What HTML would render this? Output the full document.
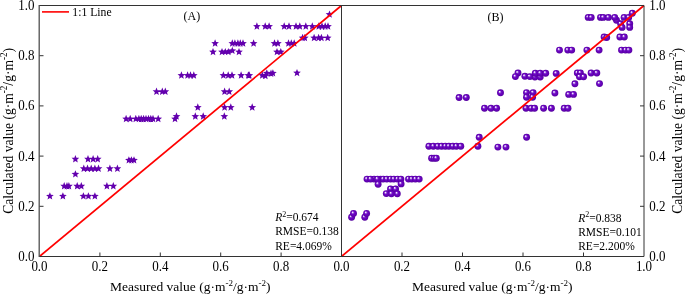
<!DOCTYPE html>
<html><head><meta charset="utf-8"><style>
html,body{margin:0;padding:0;background:#fff;width:685px;height:295px;overflow:hidden}
svg{display:block;will-change:transform}
text{font-family:"Liberation Serif",serif;fill:#000}
</style></head><body>
<svg width="685" height="295" viewBox="0 0 685 295">
<defs>
<radialGradient id="bg" cx="0.5" cy="0.5" r="0.5" fx="0.34" fy="0.31">
<stop offset="0" stop-color="#ffffff"/>
<stop offset="0.13" stop-color="#eadcf9"/>
<stop offset="0.34" stop-color="#8c38d6"/>
<stop offset="0.5" stop-color="#6c08c2"/>
<stop offset="0.85" stop-color="#6000b0"/>
<stop offset="1" stop-color="#52009c"/>
</radialGradient>
</defs>
<path d="M329.50,10.45L330.56,13.04L333.35,13.25L331.21,15.06L331.88,17.78L329.50,16.30L327.12,17.78L327.79,15.06L325.65,13.25L328.44,13.04ZM256.90,22.35L257.96,24.94L260.75,25.15L258.61,26.96L259.28,29.68L256.90,28.20L254.52,29.68L255.19,26.96L253.05,25.15L255.84,24.94ZM265.20,22.35L266.26,24.94L269.05,25.15L266.91,26.96L267.58,29.68L265.20,28.20L262.82,29.68L263.49,26.96L261.35,25.15L264.14,24.94ZM269.10,22.35L270.16,24.94L272.95,25.15L270.81,26.96L271.48,29.68L269.10,28.20L266.72,29.68L267.39,26.96L265.25,25.15L268.04,24.94ZM284.20,22.35L285.26,24.94L288.05,25.15L285.91,26.96L286.58,29.68L284.20,28.20L281.82,29.68L282.49,26.96L280.35,25.15L283.14,24.94ZM289.00,22.35L290.06,24.94L292.85,25.15L290.71,26.96L291.38,29.68L289.00,28.20L286.62,29.68L287.29,26.96L285.15,25.15L287.94,24.94ZM296.00,22.35L297.06,24.94L299.85,25.15L297.71,26.96L298.38,29.68L296.00,28.20L293.62,29.68L294.29,26.96L292.15,25.15L294.94,24.94ZM299.80,22.35L300.86,24.94L303.65,25.15L301.51,26.96L302.18,29.68L299.80,28.20L297.42,29.68L298.09,26.96L295.95,25.15L298.74,24.94ZM305.80,22.35L306.86,24.94L309.65,25.15L307.51,26.96L308.18,29.68L305.80,28.20L303.42,29.68L304.09,26.96L301.95,25.15L304.74,24.94ZM312.30,22.35L313.36,24.94L316.15,25.15L314.01,26.96L314.68,29.68L312.30,28.20L309.92,29.68L310.59,26.96L308.45,25.15L311.24,24.94ZM318.80,22.35L319.86,24.94L322.65,25.15L320.51,26.96L321.18,29.68L318.80,28.20L316.42,29.68L317.09,26.96L314.95,25.15L317.74,24.94ZM322.00,22.35L323.06,24.94L325.85,25.15L323.71,26.96L324.38,29.68L322.00,28.20L319.62,29.68L320.29,26.96L318.15,25.15L320.94,24.94ZM325.20,22.35L326.26,24.94L329.05,25.15L326.91,26.96L327.58,29.68L325.20,28.20L322.82,29.68L323.49,26.96L321.35,25.15L324.14,24.94ZM328.00,22.35L329.06,24.94L331.85,25.15L329.71,26.96L330.38,29.68L328.00,28.20L325.62,29.68L326.29,26.96L324.15,25.15L326.94,24.94ZM302.60,33.85L303.66,36.44L306.45,36.65L304.31,38.46L304.98,41.18L302.60,39.70L300.22,41.18L300.89,38.46L298.75,36.65L301.54,36.44ZM304.80,33.85L305.86,36.44L308.65,36.65L306.51,38.46L307.18,41.18L304.80,39.70L302.42,41.18L303.09,38.46L300.95,36.65L303.74,36.44ZM314.10,33.85L315.16,36.44L317.95,36.65L315.81,38.46L316.48,41.18L314.10,39.70L311.72,41.18L312.39,38.46L310.25,36.65L313.04,36.44ZM318.60,33.85L319.66,36.44L322.45,36.65L320.31,38.46L320.98,41.18L318.60,39.70L316.22,41.18L316.89,38.46L314.75,36.65L317.54,36.44ZM321.40,33.85L322.46,36.44L325.25,36.65L323.11,38.46L323.78,41.18L321.40,39.70L319.02,41.18L319.69,38.46L317.55,36.65L320.34,36.44ZM327.70,33.85L328.76,36.44L331.55,36.65L329.41,38.46L330.08,41.18L327.70,39.70L325.32,41.18L325.99,38.46L323.85,36.65L326.64,36.44ZM215.10,39.35L216.16,41.94L218.95,42.15L216.81,43.96L217.48,46.68L215.10,45.20L212.72,46.68L213.39,43.96L211.25,42.15L214.04,41.94ZM232.30,39.35L233.36,41.94L236.15,42.15L234.01,43.96L234.68,46.68L232.30,45.20L229.92,46.68L230.59,43.96L228.45,42.15L231.24,41.94ZM234.90,39.35L235.96,41.94L238.75,42.15L236.61,43.96L237.28,46.68L234.90,45.20L232.52,46.68L233.19,43.96L231.05,42.15L233.84,41.94ZM237.90,39.35L238.96,41.94L241.75,42.15L239.61,43.96L240.28,46.68L237.90,45.20L235.52,46.68L236.19,43.96L234.05,42.15L236.84,41.94ZM240.30,39.35L241.36,41.94L244.15,42.15L242.01,43.96L242.68,46.68L240.30,45.20L237.92,46.68L238.59,43.96L236.45,42.15L239.24,41.94ZM243.00,39.35L244.06,41.94L246.85,42.15L244.71,43.96L245.38,46.68L243.00,45.20L240.62,46.68L241.29,43.96L239.15,42.15L241.94,41.94ZM253.60,39.35L254.66,41.94L257.45,42.15L255.31,43.96L255.98,46.68L253.60,45.20L251.22,46.68L251.89,43.96L249.75,42.15L252.54,41.94ZM274.50,39.35L275.56,41.94L278.35,42.15L276.21,43.96L276.88,46.68L274.50,45.20L272.12,46.68L272.79,43.96L270.65,42.15L273.44,41.94ZM277.90,39.35L278.96,41.94L281.75,42.15L279.61,43.96L280.28,46.68L277.90,45.20L275.52,46.68L276.19,43.96L274.05,42.15L276.84,41.94ZM288.50,39.35L289.56,41.94L292.35,42.15L290.21,43.96L290.88,46.68L288.50,45.20L286.12,46.68L286.79,43.96L284.65,42.15L287.44,41.94ZM291.30,39.35L292.36,41.94L295.15,42.15L293.01,43.96L293.68,46.68L291.30,45.20L288.92,46.68L289.59,43.96L287.45,42.15L290.24,41.94ZM294.20,39.35L295.26,41.94L298.05,42.15L295.91,43.96L296.58,46.68L294.20,45.20L291.82,46.68L292.49,43.96L290.35,42.15L293.14,41.94ZM213.00,47.95L214.06,50.54L216.85,50.75L214.71,52.56L215.38,55.28L213.00,53.80L210.62,55.28L211.29,52.56L209.15,50.75L211.94,50.54ZM222.00,47.95L223.06,50.54L225.85,50.75L223.71,52.56L224.38,55.28L222.00,53.80L219.62,55.28L220.29,52.56L218.15,50.75L220.94,50.54ZM225.30,47.95L226.36,50.54L229.15,50.75L227.01,52.56L227.68,55.28L225.30,53.80L222.92,55.28L223.59,52.56L221.45,50.75L224.24,50.54ZM228.30,47.95L229.36,50.54L232.15,50.75L230.01,52.56L230.68,55.28L228.30,53.80L225.92,55.28L226.59,52.56L224.45,50.75L227.24,50.54ZM239.00,47.95L240.06,50.54L242.85,50.75L240.71,52.56L241.38,55.28L239.00,53.80L236.62,55.28L237.29,52.56L235.15,50.75L237.94,50.54ZM277.00,47.95L278.06,50.54L280.85,50.75L278.71,52.56L279.38,55.28L277.00,53.80L274.62,55.28L275.29,52.56L273.15,50.75L275.94,50.54ZM280.80,47.95L281.86,50.54L284.65,50.75L282.51,52.56L283.18,55.28L280.80,53.80L278.42,55.28L279.09,52.56L276.95,50.75L279.74,50.54ZM232.30,46.75L233.36,49.34L236.15,49.55L234.01,51.36L234.68,54.08L232.30,52.60L229.92,54.08L230.59,51.36L228.45,49.55L231.24,49.34ZM297.00,68.95L298.06,71.54L300.85,71.75L298.71,73.56L299.38,76.28L297.00,74.80L294.62,76.28L295.29,73.56L293.15,71.75L295.94,71.54ZM181.40,71.35L182.46,73.94L185.25,74.15L183.11,75.96L183.78,78.68L181.40,77.20L179.02,78.68L179.69,75.96L177.55,74.15L180.34,73.94ZM187.60,71.35L188.66,73.94L191.45,74.15L189.31,75.96L189.98,78.68L187.60,77.20L185.22,78.68L185.89,75.96L183.75,74.15L186.54,73.94ZM190.50,71.35L191.56,73.94L194.35,74.15L192.21,75.96L192.88,78.68L190.50,77.20L188.12,78.68L188.79,75.96L186.65,74.15L189.44,73.94ZM193.80,71.35L194.86,73.94L197.65,74.15L195.51,75.96L196.18,78.68L193.80,77.20L191.42,78.68L192.09,75.96L189.95,74.15L192.74,73.94ZM223.40,71.35L224.46,73.94L227.25,74.15L225.11,75.96L225.78,78.68L223.40,77.20L221.02,78.68L221.69,75.96L219.55,74.15L222.34,73.94ZM228.20,71.35L229.26,73.94L232.05,74.15L229.91,75.96L230.58,78.68L228.20,77.20L225.82,78.68L226.49,75.96L224.35,74.15L227.14,73.94ZM232.00,71.35L233.06,73.94L235.85,74.15L233.71,75.96L234.38,78.68L232.00,77.20L229.62,78.68L230.29,75.96L228.15,74.15L230.94,73.94ZM241.10,71.35L242.16,73.94L244.95,74.15L242.81,75.96L243.48,78.68L241.10,77.20L238.72,78.68L239.39,75.96L237.25,74.15L240.04,73.94ZM248.30,71.35L249.36,73.94L252.15,74.15L250.01,75.96L250.68,78.68L248.30,77.20L245.92,78.68L246.59,75.96L244.45,74.15L247.24,73.94ZM249.30,71.35L250.36,73.94L253.15,74.15L251.01,75.96L251.68,78.68L249.30,77.20L246.92,78.68L247.59,75.96L245.45,74.15L248.24,73.94ZM262.30,71.35L263.36,73.94L266.15,74.15L264.01,75.96L264.68,78.68L262.30,77.20L259.92,78.68L260.59,75.96L258.45,74.15L261.24,73.94ZM265.30,71.95L266.36,74.54L269.15,74.75L267.01,76.56L267.68,79.28L265.30,77.80L262.92,79.28L263.59,76.56L261.45,74.75L264.24,74.54ZM266.80,69.25L267.86,71.84L270.65,72.05L268.51,73.86L269.18,76.58L266.80,75.10L264.42,76.58L265.09,73.86L262.95,72.05L265.74,71.84ZM271.00,69.55L272.06,72.14L274.85,72.35L272.71,74.16L273.38,76.88L271.00,75.40L268.62,76.88L269.29,74.16L267.15,72.35L269.94,72.14ZM272.90,69.15L273.96,71.74L276.75,71.95L274.61,73.76L275.28,76.48L272.90,75.00L270.52,76.48L271.19,73.76L269.05,71.95L271.84,71.74ZM156.50,87.55L157.56,90.14L160.35,90.35L158.21,92.16L158.88,94.88L156.50,93.40L154.12,94.88L154.79,92.16L152.65,90.35L155.44,90.14ZM162.30,87.55L163.36,90.14L166.15,90.35L164.01,92.16L164.68,94.88L162.30,93.40L159.92,94.88L160.59,92.16L158.45,90.35L161.24,90.14ZM165.30,87.55L166.36,90.14L169.15,90.35L167.01,92.16L167.68,94.88L165.30,93.40L162.92,94.88L163.59,92.16L161.45,90.35L164.24,90.14ZM224.60,87.55L225.66,90.14L228.45,90.35L226.31,92.16L226.98,94.88L224.60,93.40L222.22,94.88L222.89,92.16L220.75,90.35L223.54,90.14ZM229.20,87.55L230.26,90.14L233.05,90.35L230.91,92.16L231.58,94.88L229.20,93.40L226.82,94.88L227.49,92.16L225.35,90.35L228.14,90.14ZM197.80,103.35L198.86,105.94L201.65,106.15L199.51,107.96L200.18,110.68L197.80,109.20L195.42,110.68L196.09,107.96L193.95,106.15L196.74,105.94ZM224.60,103.35L225.66,105.94L228.45,106.15L226.31,107.96L226.98,110.68L224.60,109.20L222.22,110.68L222.89,107.96L220.75,106.15L223.54,105.94ZM230.80,103.35L231.86,105.94L234.65,106.15L232.51,107.96L233.18,110.68L230.80,109.20L228.42,110.68L229.09,107.96L226.95,106.15L229.74,105.94ZM252.20,103.35L253.26,105.94L256.05,106.15L253.91,107.96L254.58,110.68L252.20,109.20L249.82,110.68L250.49,107.96L248.35,106.15L251.14,105.94ZM176.50,112.35L177.56,114.94L180.35,115.15L178.21,116.96L178.88,119.68L176.50,118.20L174.12,119.68L174.79,116.96L172.65,115.15L175.44,114.94ZM195.30,112.35L196.36,114.94L199.15,115.15L197.01,116.96L197.68,119.68L195.30,118.20L192.92,119.68L193.59,116.96L191.45,115.15L194.24,114.94ZM203.20,112.35L204.26,114.94L207.05,115.15L204.91,116.96L205.58,119.68L203.20,118.20L200.82,119.68L201.49,116.96L199.35,115.15L202.14,114.94ZM224.30,112.35L225.36,114.94L228.15,115.15L226.01,116.96L226.68,119.68L224.30,118.20L221.92,119.68L222.59,116.96L220.45,115.15L223.24,114.94ZM175.00,114.85L176.06,117.44L178.85,117.65L176.71,119.46L177.38,122.18L175.00,120.70L172.62,122.18L173.29,119.46L171.15,117.65L173.94,117.44ZM126.10,114.85L127.16,117.44L129.95,117.65L127.81,119.46L128.48,122.18L126.10,120.70L123.72,122.18L124.39,119.46L122.25,117.65L125.04,117.44ZM130.20,114.85L131.26,117.44L134.05,117.65L131.91,119.46L132.58,122.18L130.20,120.70L127.82,122.18L128.49,119.46L126.35,117.65L129.14,117.44ZM135.80,114.85L136.86,117.44L139.65,117.65L137.51,119.46L138.18,122.18L135.80,120.70L133.42,122.18L134.09,119.46L131.95,117.65L134.74,117.44ZM138.90,114.85L139.96,117.44L142.75,117.65L140.61,119.46L141.28,122.18L138.90,120.70L136.52,122.18L137.19,119.46L135.05,117.65L137.84,117.44ZM141.20,114.85L142.26,117.44L145.05,117.65L142.91,119.46L143.58,122.18L141.20,120.70L138.82,122.18L139.49,119.46L137.35,117.65L140.14,117.44ZM143.60,114.85L144.66,117.44L147.45,117.65L145.31,119.46L145.98,122.18L143.60,120.70L141.22,122.18L141.89,119.46L139.75,117.65L142.54,117.44ZM146.00,114.85L147.06,117.44L149.85,117.65L147.71,119.46L148.38,122.18L146.00,120.70L143.62,122.18L144.29,119.46L142.15,117.65L144.94,117.44ZM148.50,114.85L149.56,117.44L152.35,117.65L150.21,119.46L150.88,122.18L148.50,120.70L146.12,122.18L146.79,119.46L144.65,117.65L147.44,117.44ZM150.80,114.85L151.86,117.44L154.65,117.65L152.51,119.46L153.18,122.18L150.80,120.70L148.42,122.18L149.09,119.46L146.95,117.65L149.74,117.44ZM153.00,114.85L154.06,117.44L156.85,117.65L154.71,119.46L155.38,122.18L153.00,120.70L150.62,122.18L151.29,119.46L149.15,117.65L151.94,117.44ZM158.20,114.85L159.26,117.44L162.05,117.65L159.91,119.46L160.58,122.18L158.20,120.70L155.82,122.18L156.49,119.46L154.35,117.65L157.14,117.44ZM75.40,155.05L76.46,157.64L79.25,157.85L77.11,159.66L77.78,162.38L75.40,160.90L73.02,162.38L73.69,159.66L71.55,157.85L74.34,157.64ZM88.00,155.05L89.06,157.64L91.85,157.85L89.71,159.66L90.38,162.38L88.00,160.90L85.62,162.38L86.29,159.66L84.15,157.85L86.94,157.64ZM93.10,155.05L94.16,157.64L96.95,157.85L94.81,159.66L95.48,162.38L93.10,160.90L90.72,162.38L91.39,159.66L89.25,157.85L92.04,157.64ZM97.70,155.05L98.76,157.64L101.55,157.85L99.41,159.66L100.08,162.38L97.70,160.90L95.32,162.38L95.99,159.66L93.85,157.85L96.64,157.64ZM128.90,156.15L129.96,158.74L132.75,158.95L130.61,160.76L131.28,163.48L128.90,162.00L126.52,163.48L127.19,160.76L125.05,158.95L127.84,158.74ZM131.40,156.15L132.46,158.74L135.25,158.95L133.11,160.76L133.78,163.48L131.40,162.00L129.02,163.48L129.69,160.76L127.55,158.95L130.34,158.74ZM134.00,156.15L135.06,158.74L137.85,158.95L135.71,160.76L136.38,163.48L134.00,162.00L131.62,163.48L132.29,160.76L130.15,158.95L132.94,158.74ZM83.80,164.55L84.86,167.14L87.65,167.35L85.51,169.16L86.18,171.88L83.80,170.40L81.42,171.88L82.09,169.16L79.95,167.35L82.74,167.14ZM87.50,164.55L88.56,167.14L91.35,167.35L89.21,169.16L89.88,171.88L87.50,170.40L85.12,171.88L85.79,169.16L83.65,167.35L86.44,167.14ZM91.20,164.55L92.26,167.14L95.05,167.35L92.91,169.16L93.58,171.88L91.20,170.40L88.82,171.88L89.49,169.16L87.35,167.35L90.14,167.14ZM94.90,164.55L95.96,167.14L98.75,167.35L96.61,169.16L97.28,171.88L94.90,170.40L92.52,171.88L93.19,169.16L91.05,167.35L93.84,167.14ZM98.50,164.55L99.56,167.14L102.35,167.35L100.21,169.16L100.88,171.88L98.50,170.40L96.12,171.88L96.79,169.16L94.65,167.35L97.44,167.14ZM109.90,164.55L110.96,167.14L113.75,167.35L111.61,169.16L112.28,171.88L109.90,170.40L107.52,171.88L108.19,169.16L106.05,167.35L108.84,167.14ZM117.40,164.55L118.46,167.14L121.25,167.35L119.11,169.16L119.78,171.88L117.40,170.40L115.02,171.88L115.69,169.16L113.55,167.35L116.34,167.14ZM75.40,170.15L76.46,172.74L79.25,172.95L77.11,174.76L77.78,177.48L75.40,176.00L73.02,177.48L73.69,174.76L71.55,172.95L74.34,172.74ZM64.20,182.05L65.26,184.64L68.05,184.85L65.91,186.66L66.58,189.38L64.20,187.90L61.82,189.38L62.49,186.66L60.35,184.85L63.14,184.64ZM67.00,182.05L68.06,184.64L70.85,184.85L68.71,186.66L69.38,189.38L67.00,187.90L64.62,189.38L65.29,186.66L63.15,184.85L65.94,184.64ZM68.90,182.05L69.96,184.64L72.75,184.85L70.61,186.66L71.28,189.38L68.90,187.90L66.52,189.38L67.19,186.66L65.05,184.85L67.84,184.64ZM77.20,182.05L78.26,184.64L81.05,184.85L78.91,186.66L79.58,189.38L77.20,187.90L74.82,189.38L75.49,186.66L73.35,184.85L76.14,184.64ZM81.30,182.05L82.36,184.64L85.15,184.85L83.01,186.66L83.68,189.38L81.30,187.90L78.92,189.38L79.59,186.66L77.45,184.85L80.24,184.64ZM106.90,182.05L107.96,184.64L110.75,184.85L108.61,186.66L109.28,189.38L106.90,187.90L104.52,189.38L105.19,186.66L103.05,184.85L105.84,184.64ZM113.30,182.05L114.36,184.64L117.15,184.85L115.01,186.66L115.68,189.38L113.30,187.90L110.92,189.38L111.59,186.66L109.45,184.85L112.24,184.64ZM49.90,192.25L50.96,194.84L53.75,195.05L51.61,196.86L52.28,199.58L49.90,198.10L47.52,199.58L48.19,196.86L46.05,195.05L48.84,194.84ZM62.90,192.25L63.96,194.84L66.75,195.05L64.61,196.86L65.28,199.58L62.90,198.10L60.52,199.58L61.19,196.86L59.05,195.05L61.84,194.84ZM83.40,192.25L84.46,194.84L87.25,195.05L85.11,196.86L85.78,199.58L83.40,198.10L81.02,199.58L81.69,196.86L79.55,195.05L82.34,194.84ZM88.40,192.25L89.46,194.84L92.25,195.05L90.11,196.86L90.78,199.58L88.40,198.10L86.02,199.58L86.69,196.86L84.55,195.05L87.34,194.84ZM94.90,192.25L95.96,194.84L98.75,195.05L96.61,196.86L97.28,199.58L94.90,198.10L92.52,199.58L93.19,196.86L91.05,195.05L93.84,194.84Z" fill="#6300ae"/>
<circle cx="351.6" cy="217.2" r="3.45" fill="url(#bg)"/><circle cx="353.5" cy="213.4" r="3.45" fill="url(#bg)"/><circle cx="364.8" cy="217.2" r="3.45" fill="url(#bg)"/><circle cx="366.6" cy="213.4" r="3.45" fill="url(#bg)"/><circle cx="374.1" cy="179.1" r="3.45" fill="url(#bg)"/><circle cx="367.0" cy="179.1" r="3.45" fill="url(#bg)"/><circle cx="370.6" cy="179.1" r="3.45" fill="url(#bg)"/><circle cx="380.5" cy="179.1" r="3.45" fill="url(#bg)"/><circle cx="383.2" cy="179.1" r="3.45" fill="url(#bg)"/><circle cx="386.8" cy="179.1" r="3.45" fill="url(#bg)"/><circle cx="390.6" cy="179.1" r="3.45" fill="url(#bg)"/><circle cx="393.8" cy="179.1" r="3.45" fill="url(#bg)"/><circle cx="397.5" cy="179.1" r="3.45" fill="url(#bg)"/><circle cx="400.9" cy="179.1" r="3.45" fill="url(#bg)"/><circle cx="408.5" cy="179.1" r="3.45" fill="url(#bg)"/><circle cx="411.8" cy="179.1" r="3.45" fill="url(#bg)"/><circle cx="415.4" cy="179.1" r="3.45" fill="url(#bg)"/><circle cx="419.2" cy="179.1" r="3.45" fill="url(#bg)"/><circle cx="377.5" cy="179.1" r="3.45" fill="url(#bg)"/><circle cx="378.1" cy="184.2" r="3.45" fill="url(#bg)"/><circle cx="401.1" cy="183.9" r="3.45" fill="url(#bg)"/><circle cx="390.5" cy="189.0" r="3.45" fill="url(#bg)"/><circle cx="395.6" cy="189.0" r="3.45" fill="url(#bg)"/><circle cx="386.3" cy="193.6" r="3.45" fill="url(#bg)"/><circle cx="391.4" cy="193.8" r="3.45" fill="url(#bg)"/><circle cx="397.3" cy="193.8" r="3.45" fill="url(#bg)"/><circle cx="428.9" cy="146.2" r="3.45" fill="url(#bg)"/><circle cx="433.3" cy="146.2" r="3.45" fill="url(#bg)"/><circle cx="437.8" cy="146.2" r="3.45" fill="url(#bg)"/><circle cx="441.6" cy="146.2" r="3.45" fill="url(#bg)"/><circle cx="445.3" cy="146.2" r="3.45" fill="url(#bg)"/><circle cx="448.9" cy="146.2" r="3.45" fill="url(#bg)"/><circle cx="452.8" cy="146.2" r="3.45" fill="url(#bg)"/><circle cx="456.4" cy="146.2" r="3.45" fill="url(#bg)"/><circle cx="460.8" cy="146.2" r="3.45" fill="url(#bg)"/><circle cx="431.6" cy="158.2" r="3.45" fill="url(#bg)"/><circle cx="434.1" cy="158.2" r="3.45" fill="url(#bg)"/><circle cx="436.3" cy="158.2" r="3.45" fill="url(#bg)"/><circle cx="479.2" cy="137.3" r="3.45" fill="url(#bg)"/><circle cx="477.9" cy="146.3" r="3.45" fill="url(#bg)"/><circle cx="497.9" cy="147.1" r="3.45" fill="url(#bg)"/><circle cx="506.0" cy="147.1" r="3.45" fill="url(#bg)"/><circle cx="526.6" cy="137.3" r="3.45" fill="url(#bg)"/><circle cx="459.1" cy="97.5" r="3.45" fill="url(#bg)"/><circle cx="466.3" cy="97.5" r="3.45" fill="url(#bg)"/><circle cx="500.5" cy="92.8" r="3.45" fill="url(#bg)"/><circle cx="484.5" cy="108.2" r="3.45" fill="url(#bg)"/><circle cx="491.0" cy="108.2" r="3.45" fill="url(#bg)"/><circle cx="496.6" cy="108.2" r="3.45" fill="url(#bg)"/><circle cx="526.0" cy="108.2" r="3.45" fill="url(#bg)"/><circle cx="531.1" cy="108.2" r="3.45" fill="url(#bg)"/><circle cx="534.6" cy="108.2" r="3.45" fill="url(#bg)"/><circle cx="543.6" cy="108.2" r="3.45" fill="url(#bg)"/><circle cx="551.4" cy="108.2" r="3.45" fill="url(#bg)"/><circle cx="564.2" cy="108.2" r="3.45" fill="url(#bg)"/><circle cx="568.0" cy="108.2" r="3.45" fill="url(#bg)"/><circle cx="526.5" cy="92.6" r="3.45" fill="url(#bg)"/><circle cx="533.1" cy="92.6" r="3.45" fill="url(#bg)"/><circle cx="526.5" cy="97.2" r="3.45" fill="url(#bg)"/><circle cx="532.6" cy="97.2" r="3.45" fill="url(#bg)"/><circle cx="554.9" cy="93.0" r="3.45" fill="url(#bg)"/><circle cx="568.7" cy="94.4" r="3.45" fill="url(#bg)"/><circle cx="573.5" cy="94.4" r="3.45" fill="url(#bg)"/><circle cx="518.0" cy="73.0" r="3.45" fill="url(#bg)"/><circle cx="515.4" cy="76.6" r="3.45" fill="url(#bg)"/><circle cx="534.9" cy="77.0" r="3.45" fill="url(#bg)"/><circle cx="540.2" cy="77.0" r="3.45" fill="url(#bg)"/><circle cx="524.9" cy="76.3" r="3.45" fill="url(#bg)"/><circle cx="529.9" cy="76.6" r="3.45" fill="url(#bg)"/><circle cx="535.3" cy="73.2" r="3.45" fill="url(#bg)"/><circle cx="540.2" cy="73.2" r="3.45" fill="url(#bg)"/><circle cx="545.7" cy="73.2" r="3.45" fill="url(#bg)"/><circle cx="556.2" cy="73.4" r="3.45" fill="url(#bg)"/><circle cx="577.3" cy="73.0" r="3.45" fill="url(#bg)"/><circle cx="580.4" cy="73.0" r="3.45" fill="url(#bg)"/><circle cx="579.5" cy="76.8" r="3.45" fill="url(#bg)"/><circle cx="583.6" cy="76.8" r="3.45" fill="url(#bg)"/><circle cx="591.1" cy="73.0" r="3.45" fill="url(#bg)"/><circle cx="596.8" cy="73.0" r="3.45" fill="url(#bg)"/><circle cx="574.9" cy="83.8" r="3.45" fill="url(#bg)"/><circle cx="599.5" cy="83.6" r="3.45" fill="url(#bg)"/><circle cx="559.5" cy="50.1" r="3.45" fill="url(#bg)"/><circle cx="567.8" cy="50.1" r="3.45" fill="url(#bg)"/><circle cx="571.7" cy="50.1" r="3.45" fill="url(#bg)"/><circle cx="586.9" cy="50.1" r="3.45" fill="url(#bg)"/><circle cx="599.1" cy="50.1" r="3.45" fill="url(#bg)"/><circle cx="621.5" cy="50.1" r="3.45" fill="url(#bg)"/><circle cx="625.5" cy="50.1" r="3.45" fill="url(#bg)"/><circle cx="628.9" cy="50.1" r="3.45" fill="url(#bg)"/><circle cx="604.1" cy="37.0" r="3.45" fill="url(#bg)"/><circle cx="606.7" cy="37.5" r="3.45" fill="url(#bg)"/><circle cx="619.9" cy="37.0" r="3.45" fill="url(#bg)"/><circle cx="624.3" cy="37.0" r="3.45" fill="url(#bg)"/><circle cx="616.5" cy="20.3" r="3.45" fill="url(#bg)"/><circle cx="588.2" cy="17.4" r="3.45" fill="url(#bg)"/><circle cx="591.2" cy="17.4" r="3.45" fill="url(#bg)"/><circle cx="600.5" cy="17.4" r="3.45" fill="url(#bg)"/><circle cx="603.2" cy="17.4" r="3.45" fill="url(#bg)"/><circle cx="608.4" cy="17.4" r="3.45" fill="url(#bg)"/><circle cx="614.7" cy="17.4" r="3.45" fill="url(#bg)"/><circle cx="624.1" cy="17.4" r="3.45" fill="url(#bg)"/><circle cx="628.7" cy="17.4" r="3.45" fill="url(#bg)"/><circle cx="632.3" cy="13.2" r="3.45" fill="url(#bg)"/><circle cx="620.6" cy="23.8" r="3.45" fill="url(#bg)"/><circle cx="629.7" cy="23.8" r="3.45" fill="url(#bg)"/><circle cx="622.1" cy="27.4" r="3.45" fill="url(#bg)"/><circle cx="629.7" cy="27.4" r="3.45" fill="url(#bg)"/>
<line x1="39.5" y1="256.5" x2="341.5" y2="5.5" stroke="#ff0000" stroke-width="1.65"/>
<line x1="341.5" y1="256.5" x2="644.0" y2="5.5" stroke="#ff0000" stroke-width="1.65"/>
<path d="M39.0,5.5H644.0M39.0,256.5H644.0M341.5,5.5V256.5M644.0,5.5V256.5" stroke="#333333" stroke-width="1" fill="none"/>
<path d="M39.2,5.0V257.0" stroke="#505050" stroke-width="1.3" fill="none"/>
<path d="M99.9,256.5V252.5M160.3,256.5V252.5M220.7,256.5V252.5M281.1,256.5V252.5M402.0,256.5V252.5M462.5,256.5V252.5M523.0,256.5V252.5M583.5,256.5V252.5M39.5,206.3H43.5M644.0,206.3H640.0M39.5,156.1H43.5M644.0,156.1H640.0M39.5,105.9H43.5M644.0,105.9H640.0M39.5,55.7H43.5M644.0,55.7H640.0" stroke="#333333" stroke-width="1" fill="none"/>
<text transform="translate(34.5,260.9) scale(1,1.08)" font-size="13" text-anchor="end">0.0</text><text transform="translate(649.2,260.9) scale(1,1.08)" font-size="13" text-anchor="start">0.0</text><text transform="translate(34.5,210.7) scale(1,1.08)" font-size="13" text-anchor="end">0.2</text><text transform="translate(649.2,210.7) scale(1,1.08)" font-size="13" text-anchor="start">0.2</text><text transform="translate(34.5,160.5) scale(1,1.08)" font-size="13" text-anchor="end">0.4</text><text transform="translate(649.2,160.5) scale(1,1.08)" font-size="13" text-anchor="start">0.4</text><text transform="translate(34.5,110.3) scale(1,1.08)" font-size="13" text-anchor="end">0.6</text><text transform="translate(649.2,110.3) scale(1,1.08)" font-size="13" text-anchor="start">0.6</text><text transform="translate(34.5,60.1) scale(1,1.08)" font-size="13" text-anchor="end">0.8</text><text transform="translate(649.2,60.1) scale(1,1.08)" font-size="13" text-anchor="start">0.8</text><text transform="translate(34.5,9.9) scale(1,1.08)" font-size="13" text-anchor="end">1.0</text><text transform="translate(649.2,9.9) scale(1,1.08)" font-size="13" text-anchor="start">1.0</text><text transform="translate(39.5,271.4) scale(1,1.08)" font-size="13" text-anchor="middle">0.0</text><text transform="translate(99.9,271.4) scale(1,1.08)" font-size="13" text-anchor="middle">0.2</text><text transform="translate(160.3,271.4) scale(1,1.08)" font-size="13" text-anchor="middle">0.4</text><text transform="translate(220.7,271.4) scale(1,1.08)" font-size="13" text-anchor="middle">0.6</text><text transform="translate(281.1,271.4) scale(1,1.08)" font-size="13" text-anchor="middle">0.8</text><text transform="translate(341.5,271.4) scale(1,1.08)" font-size="13" text-anchor="middle">0.0</text><text transform="translate(402.0,271.4) scale(1,1.08)" font-size="13" text-anchor="middle">0.2</text><text transform="translate(462.5,271.4) scale(1,1.08)" font-size="13" text-anchor="middle">0.4</text><text transform="translate(523.0,271.4) scale(1,1.08)" font-size="13" text-anchor="middle">0.6</text><text transform="translate(583.5,271.4) scale(1,1.08)" font-size="13" text-anchor="middle">0.8</text><text transform="translate(644.0,271.4) scale(1,1.08)" font-size="13" text-anchor="middle">1.0</text>
<text x="190.2" y="290.7" font-size="13.5" text-anchor="middle">Measured value (g·m<tspan dy="-5" font-size="9">-2</tspan><tspan dy="5">/g·m</tspan><tspan dy="-5" font-size="9">-2</tspan><tspan dy="5">)</tspan></text>
<text x="492.2" y="290.7" font-size="13.5" text-anchor="middle">Measured value (g·m<tspan dy="-5" font-size="9">-2</tspan><tspan dy="5">/g·m</tspan><tspan dy="-5" font-size="9">-2</tspan><tspan dy="5">)</tspan></text>
<text transform="translate(12.9,130.9) rotate(-90) scale(1,1.15)" font-size="13.6" text-anchor="middle">Calculated value (g·m<tspan dy="-5" font-size="9">-2</tspan><tspan dy="5">/g·m</tspan><tspan dy="-5" font-size="9">-2</tspan><tspan dy="5">)</tspan></text>
<text transform="translate(681.5,130.9) rotate(-90) scale(1,1.15)" font-size="13.6" text-anchor="middle">Calculated value (g·m<tspan dy="-5" font-size="9">-2</tspan><tspan dy="5">/g·m</tspan><tspan dy="-5" font-size="9">-2</tspan><tspan dy="5">)</tspan></text>
<line x1="42" y1="11.9" x2="69" y2="11.9" stroke="#ff0000" stroke-width="1.6"/><text x="72.3" y="15.8" font-size="11.7">1:1 Line</text>
<text x="183.5" y="19.8" font-size="12">(A)</text><text x="487.5" y="21.0" font-size="12">(B)</text>
<text x="275.2" y="221.0" font-size="11.5"><tspan font-style="italic">R</tspan><tspan dy="-4.5" font-size="8">2</tspan><tspan dy="4.5">=0.674</tspan></text><text x="275.2" y="235.2" font-size="11.5">RMSE=0.138</text><text x="275.2" y="249.5" font-size="11.5">RE=4.069%</text>
<text x="578.2" y="221.9" font-size="11.5"><tspan font-style="italic">R</tspan><tspan dy="-4.5" font-size="8">2</tspan><tspan dy="4.5">=0.838</tspan></text><text x="578.2" y="236.1" font-size="11.5">RMSE=0.101</text><text x="578.2" y="250.4" font-size="11.5">RE=2.200%</text>
</svg>
</body></html>
